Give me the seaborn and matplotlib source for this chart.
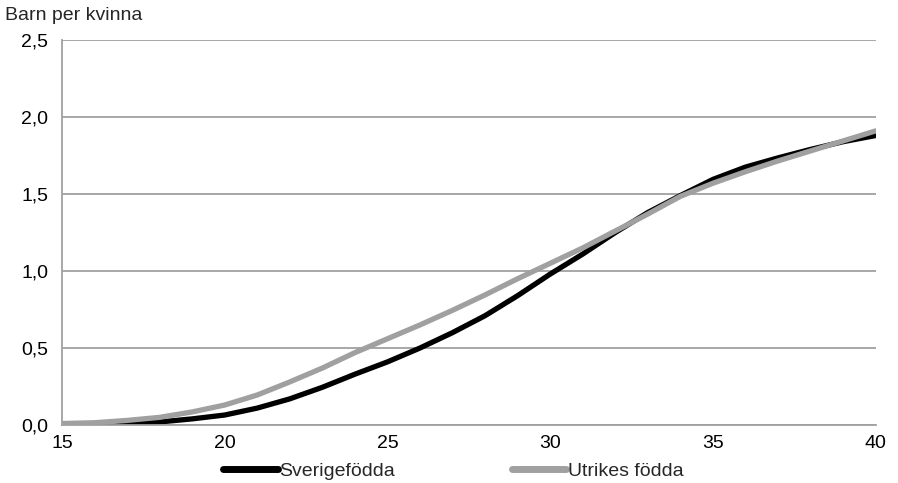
import numpy as np
import pandas as pd
import seaborn as sns
import matplotlib.pyplot as plt

ages = list(range(15, 41))
sverige = [0.00, 0.003, 0.008, 0.02, 0.04, 0.065, 0.11, 0.17, 0.245, 0.33,
           0.41, 0.50, 0.60, 0.71, 0.84, 0.98, 1.11, 1.25, 1.38, 1.49,
           1.595, 1.675, 1.735, 1.79, 1.84, 1.88]
utrikes = [0.01, 0.015, 0.03, 0.05, 0.085, 0.13, 0.195, 0.28, 0.37, 0.47,
           0.56, 0.65, 0.745, 0.845, 0.95, 1.05, 1.15, 1.26, 1.37, 1.485,
           1.57, 1.645, 1.715, 1.78, 1.845, 1.91]
series = ['Sverigefödda', 'Utrikes födda']

df = pd.DataFrame({
    'age': ages * 2,
    'value': sverige + utrikes,
    'group': [series[0]] * len(ages) + [series[1]] * len(ages),
})

sns.set_style('white')
plt.rcParams['font.family'] = ['Liberation Sans', 'DejaVu Sans']

fig = plt.figure(figsize=(8.98, 4.83), dpi=100)
ax = fig.add_axes([0.069, 0.120, 0.906, 0.797])

sns.lineplot(data=df, x='age', y='value', hue='group',
             palette={series[0]: '#000000', series[1]: '#a0a0a0'},
             linewidth=3.8, ax=ax, legend=False)

ax.set_xlim(15, 40)
ax.set_ylim(0, 2.5)
ax.set_xticks(range(15, 41, 5))
ax.set_yticks(np.arange(0, 2.51, 0.5))
ax.set_yticklabels([f'{v:.1f}'.replace('.', ',') for v in np.arange(0, 2.51, 0.5)])
ax.set_xlabel('')
ax.set_ylabel('')
ax.yaxis.grid(True, color='#a0a0a0', linewidth=1.3)
ax.set_axisbelow(True)

for s in ['top', 'right']:
    ax.spines[s].set_visible(False)
for s in ['left', 'bottom']:
    ax.spines[s].set_color('#a0a0a0')
    ax.spines[s].set_linewidth(1.3)

ax.tick_params(axis='both', direction='out', length=5, width=1.3,
               color='#a0a0a0', labelsize=14, labelcolor='black')
ax.tick_params(axis='y', pad=5)
ax.tick_params(axis='x', pad=2)

fig.text(0.006, 0.967, 'Barn per kvinna', fontsize=14, va='center', ha='left')

handles = [plt.Line2D([], [], color='#000000', linewidth=5),
           plt.Line2D([], [], color='#a0a0a0', linewidth=5)]
fig.legend(handles, series, loc='lower center', bbox_to_anchor=(0.505, -0.03),
           ncol=2, frameon=False, fontsize=14, handlelength=2.8,
           handletextpad=0.1, columnspacing=6.0)

fig.savefig('out.png', dpi=100)
